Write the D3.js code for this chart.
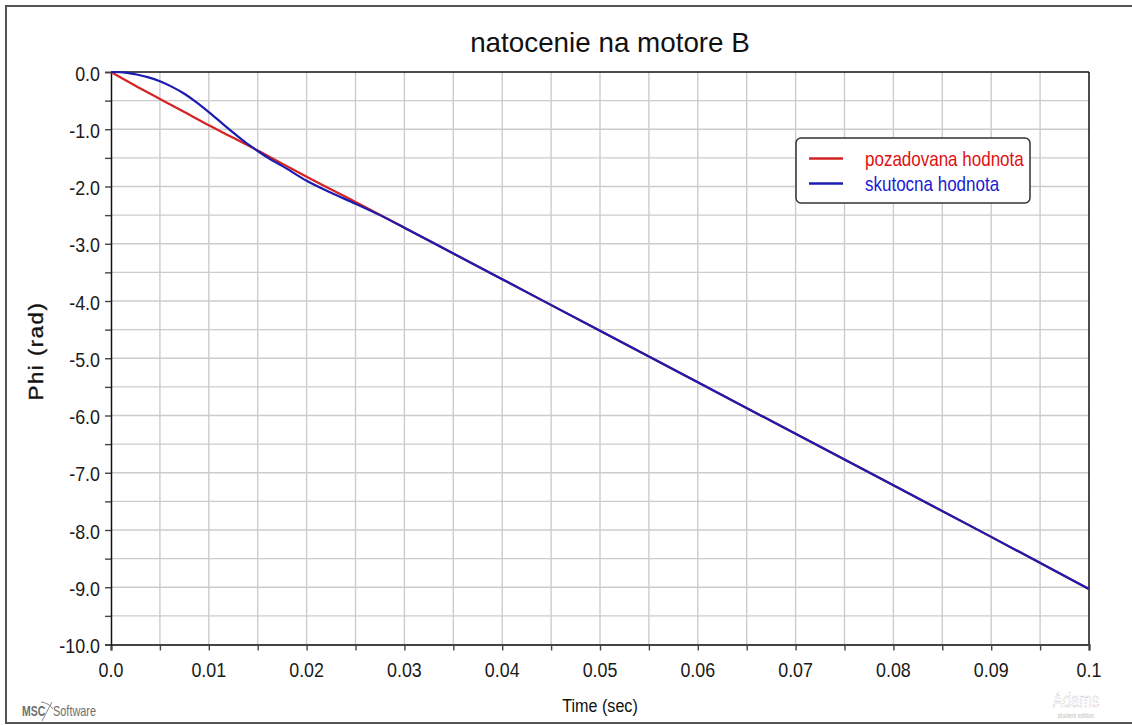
<!DOCTYPE html>
<html>
<head>
<meta charset="utf-8">
<script src="https://cdn.jsdelivr.net/npm/d3@7"></script>
<style>
  html, body { margin: 0; padding: 0; background: #ffffff; }
  svg { display: block; font-family: "Liberation Sans", Arial, sans-serif; }
</style>
</head>
<body>
<svg id="chart" width="1132" height="725"></svg>
<script>
// Commanded (pozadovana) motor angle, rad, vs time, s
const timeRef = [0, 0.0025, 0.005, 0.0075, 0.01, 0.0125, 0.015, 0.0175, 0.02, 0.025, 0.03,
                 0.04, 0.05, 0.06, 0.07, 0.08, 0.09, 0.1];
const phiRef  = [0, -0.24, -0.47, -0.70, -0.93, -1.15, -1.37, -1.60, -1.83, -2.27, -2.72,
                 -3.62, -4.52, -5.42, -6.32, -7.22, -8.12, -9.03];

// Actual (skutocna) motor angle, rad, vs time, s
const timeAct = [0, 0.00125, 0.0025, 0.00375, 0.005, 0.00625, 0.0075, 0.00875, 0.01, 0.01125,
                 0.0125, 0.01375, 0.015, 0.01625, 0.0175, 0.02, 0.0225, 0.025, 0.0275, 0.03,
                 0.035, 0.04, 0.05, 0.06, 0.07, 0.08, 0.09, 0.1];
const phiAct  = [0, -0.005, -0.04, -0.09, -0.16, -0.26, -0.38, -0.53, -0.70, -0.88,
                 -1.06, -1.23, -1.38, -1.52, -1.64, -1.90, -2.11, -2.30, -2.50, -2.72,
                 -3.17, -3.62, -4.52, -5.42, -6.32, -7.22, -8.12, -9.03];

const xTickValues = [0, 0.01, 0.02, 0.03, 0.04, 0.05, 0.06, 0.07, 0.08, 0.09, 0.1];
const xTickLabels = ["0.0", "0.01", "0.02", "0.03", "0.04", "0.05", "0.06", "0.07", "0.08", "0.09", "0.1"];
const yTickValues = [0, -1, -2, -3, -4, -5, -6, -7, -8, -9, -10];
const yTickLabels = ["0.0", "-1.0", "-2.0", "-3.0", "-4.0", "-5.0", "-6.0", "-7.0", "-8.0", "-9.0", "-10.0"];

const seriesNames = ["pozadovana hodnota", "skutocna hodnota"];
const seriesColors = ["#d42323", "#1c1cb0"];
const legendTextColors = ["#e01010", "#1a1ad0"];

const titleText = "natocenie na motore B";
const xAxisTitle = "Time (sec)";
const yAxisTitle = "Phi (rad)";

const svg = d3.select("#chart");
const plot = { left: 111, right: 1089, top: 72, bottom: 644.5 };
const squeeze = 0.85; // horizontal narrowing of the label font

const x = d3.scaleLinear().domain([0, 0.1]).range([plot.left, plot.right]);
const y = d3.scaleLinear().domain([-10, 0]).range([plot.bottom, plot.top]);

// outer frame
svg.append("rect")
  .attr("x", 6).attr("y", 6).attr("width", 1130).attr("height", 717)
  .attr("fill", "none").attr("stroke", "#555").attr("stroke-width", 2);

// grid
const gridX = d3.range(0, 21).map(i => i * 0.005);
const gridY = d3.range(0, 21).map(i => -i * 0.5);
svg.append("g").selectAll("line").data(gridX.slice(1, -1)).join("line")
  .attr("x1", d => x(d)).attr("x2", d => x(d))
  .attr("y1", plot.top).attr("y2", plot.bottom)
  .attr("stroke", "#cccccc").attr("stroke-width", 1.4);
svg.append("g").selectAll("line").data(gridY.slice(1, -1)).join("line")
  .attr("x1", plot.left).attr("x2", plot.right)
  .attr("y1", d => y(d)).attr("y2", d => y(d))
  .attr("stroke", "#cccccc").attr("stroke-width", 1.4);

// plot borders
svg.append("line").attr("x1", plot.left).attr("x2", plot.right)
  .attr("y1", plot.top).attr("y2", plot.top).attr("stroke", "#111").attr("stroke-width", 1.5);
svg.append("line").attr("x1", plot.right).attr("x2", plot.right)
  .attr("y1", plot.top).attr("y2", plot.bottom).attr("stroke", "#111").attr("stroke-width", 1.5);

// axes (ticks every half step; labels on whole steps)
const xAxis = d3.axisBottom(x).tickValues(gridX).tickSize(6).tickFormat("");
const gx = svg.append("g").attr("transform", `translate(0,${plot.bottom})`).call(xAxis);
gx.select(".domain").attr("stroke", "#444").attr("stroke-width", 2.2);
gx.selectAll(".tick line").attr("stroke", "#444").attr("stroke-width", 1.4);

const yAxis = d3.axisLeft(y).tickValues(gridY).tickSize(6).tickFormat("");
const gy = svg.append("g").attr("transform", `translate(${plot.left},0)`).call(yAxis);
gy.select(".domain").attr("stroke", "#111").attr("stroke-width", 1.5);
gy.selectAll(".tick line").attr("stroke", "#444").attr("stroke-width", 1.4);

// tick labels
const labelFont = 21;
svg.append("g").selectAll("text").data(xTickValues).join("text")
  .attr("transform", d => `translate(${x(d)},677) scale(${squeeze},1)`)
  .attr("text-anchor", "middle").attr("font-size", labelFont).attr("fill", "#1a1a1a")
  .text((d, i) => xTickLabels[i]);
svg.append("g").selectAll("text").data(yTickValues).join("text")
  .attr("transform", d => `translate(100,${y(d) + 8.5}) scale(${squeeze},1)`)
  .attr("text-anchor", "end").attr("font-size", labelFont).attr("fill", "#1a1a1a")
  .text((d, i) => yTickLabels[i]);

// titles
svg.append("text").attr("x", 610).attr("y", 52).attr("text-anchor", "middle")
  .attr("font-size", 27.8).attr("fill", "#111").text(titleText);
svg.append("text")
  .attr("transform", `translate(600,712) scale(${squeeze},1)`)
  .attr("text-anchor", "middle").attr("font-size", 19).attr("fill", "#111").text(xAxisTitle);
svg.append("text")
  .attr("transform", "translate(43,351) rotate(-90) scale(1,0.88)")
  .attr("text-anchor", "middle").attr("font-size", 22)
  .attr("letter-spacing", 1.6).attr("fill", "#111")
  .attr("stroke", "#111").attr("stroke-width", 0.4).text(yAxisTitle);

// curves
const line = d3.line().x(d => x(d[0])).y(d => y(d[1])).curve(d3.curveMonotoneX);
const series = [
  { t: timeRef, v: phiRef },
  { t: timeAct, v: phiAct }
];
svg.append("g").selectAll("path").data(series).join("path")
  .attr("d", s => line(s.t.map((t, i) => [t, s.v[i]])))
  .attr("fill", "none")
  .attr("stroke", (s, i) => seriesColors[i])
  .attr("stroke-width", 2.2)
  .attr("stroke-linejoin", "round");

// legend
const lg = svg.append("g");
lg.append("rect").attr("x", 796).attr("y", 138).attr("width", 234).attr("height", 65)
  .attr("rx", 5).attr("fill", "#fff").attr("stroke", "#333").attr("stroke-width", 1.5);
seriesNames.forEach((name, i) => {
  const cy = 158.5 + i * 25;
  lg.append("line").attr("x1", 809).attr("x2", 843).attr("y1", cy).attr("y2", cy)
    .attr("stroke", seriesColors[i]).attr("stroke-width", 2.4);
  lg.append("text").attr("transform", `translate(865,${cy + 7.5}) scale(${squeeze},1)`)
    .attr("font-size", 20).attr("fill", legendTextColors[i]).text(name);
});

// vendor marks
const msc = svg.append("g").attr("fill", "#6e6e6e");
msc.append("text").attr("transform", "translate(22,716) scale(0.75,1)")
  .attr("font-size", 14).attr("font-weight", "bold").text("MSC");
msc.append("path").attr("d", "M41,702 Q49,703 53,709 M52,702 L42,721")
  .attr("fill", "none").attr("stroke", "#8a8a8a").attr("stroke-width", 1);
msc.append("text").attr("transform", "translate(53,716) scale(0.78,1)")
  .attr("font-size", 14).text("Software");

const adams = svg.append("g");
adams.append("text").attr("transform", "translate(1076,707) scale(0.75,1)")
  .attr("text-anchor", "middle").attr("font-size", 20).attr("fill", "none")
  .attr("stroke", "#c8c8c8").attr("stroke-width", 0.8).attr("stroke-dasharray", "1.5,1.5").text("Adams");
adams.append("text").attr("transform", "translate(1076,718) scale(0.7,1)")
  .attr("text-anchor", "middle").attr("font-size", 8).attr("fill", "#c0c0c0").text("student edition");
</script>
</body>
</html>
